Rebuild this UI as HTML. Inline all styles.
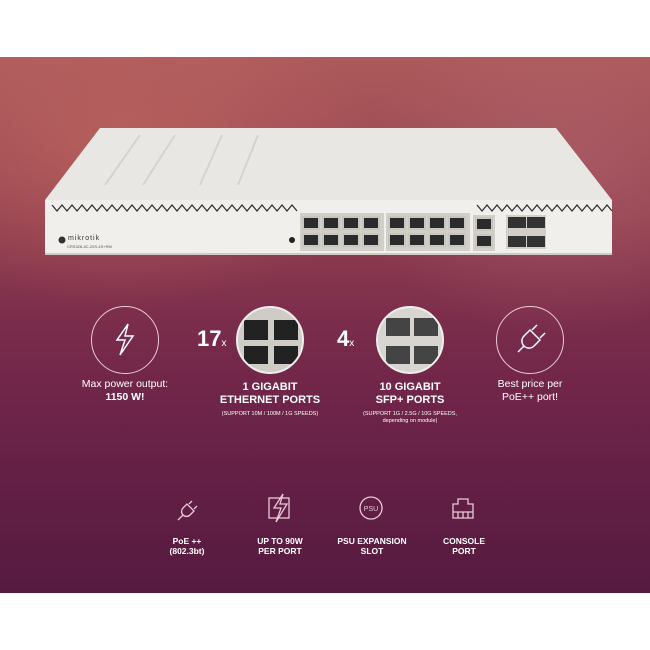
<!DOCTYPE html>
<html><head><meta charset="utf-8"><style>
*{margin:0;padding:0;box-sizing:border-box}
body{width:650px;height:650px;background:#fff;position:relative;overflow:hidden;font-family:"Liberation Sans",sans-serif}
.bg{position:absolute;left:0;top:57px;width:650px;height:536px;background:
radial-gradient(ellipse 260px 160px at 120px 90px,rgba(200,110,100,.55),transparent),
radial-gradient(ellipse 200px 160px at 560px 120px,rgba(190,120,130,.35),transparent),
linear-gradient(180deg,#ad5a5c 0%,#93404f 30%,#7a2c4b 50%,#6a2248 70%,#561a40 100%)}
.a{position:absolute}
.t{position:absolute;color:#fff;text-align:center;white-space:nowrap}
.port{position:absolute;width:18px;height:14px;background:#2b2b2b;border:2px solid #c9c5bf}
.circ{position:absolute;width:68px;height:68px;border:1.5px solid rgba(255,230,235,.85);border-radius:50%}
.pic{position:absolute;width:68px;height:68px;border-radius:50%;border:2px solid #eee;overflow:hidden;background:#d8d5d0}
</style></head><body>
<div class="bg"></div>
<!-- switch top face -->
<svg class="a" style="left:0;top:0" width="650" height="650">
<polygon points="100,128 556,128 612,200 45,200" fill="#e9e7e4"/>
<g stroke="#d6d3cf" stroke-width="2"><line x1="140" y1="135" x2="105" y2="185"/><line x1="175" y1="135" x2="143" y2="185"/><line x1="222" y1="135" x2="200" y2="185"/><line x1="258" y1="135" x2="238" y2="185"/></g>
<rect x="45" y="200" width="567" height="54" fill="#f1efec"/>
<rect x="45" y="253" width="567" height="2" fill="#cfcac4"/>
<path d="M52 205 l5 6 l5 -6 l5 6 l5 -6 l5 6 l5 -6 l5 6 l5 -6 l5 6 l5 -6 l5 6 l5 -6 l5 6 l5 -6 l5 6 l5 -6 l5 6 l5 -6 l5 6 l5 -6 l5 6 l5 -6 l5 6 l5 -6 l5 6 l5 -6 l5 6 l5 -6 l5 6 l5 -6 l5 6 l5 -6 l5 6 l5 -6 l5 6 l5 -6 l5 6 l5 -6 l5 6 l5 -6 l5 6 l5 -6 l5 6 l5 -6 l5 6 l5 -6 l5 6 l5 -6 l5 6" fill="none" stroke="#333" stroke-width="1.3"/>
<path d="M477 205 l5 6 l5 -6 l5 6 l5 -6 l5 6 l5 -6 l5 6 l5 -6 l5 6 l5 -6 l5 6 l5 -6 l5 6 l5 -6 l5 6 l5 -6 l5 6 l5 -6 l5 6 l5 -6 l5 6 l5 -6 l5 6 l5 -6 l5 6 l5 -6 l5 6" fill="none" stroke="#333" stroke-width="1.3"/>
<rect x="300" y="213" width="84" height="38" fill="#d2cec8"/>
<rect x="386" y="213" width="84" height="38" fill="#d2cec8"/>
<rect x="473" y="215" width="22" height="36" fill="#d2cec8"/>
<rect x="506" y="215" width="40" height="34" fill="#d2cec8"/>
<circle cx="292" cy="240" r="3" fill="#222"/>
<circle cx="62" cy="240" r="3.5" fill="#333"/>
</svg>
<div class="t" style="left:68px;top:235px;font-size:7px;color:#333;letter-spacing:1px">mikrotik</div>
<div class="t" style="left:67px;top:244px;font-size:4px;color:#555">CRS328-4C-20S-4S+RM</div>
<!-- ports -->
<div class="port" style="left:302px;top:216px"></div><div class="port" style="left:322px;top:216px"></div><div class="port" style="left:342px;top:216px"></div><div class="port" style="left:362px;top:216px"></div>
<div class="port" style="left:302px;top:233px"></div><div class="port" style="left:322px;top:233px"></div><div class="port" style="left:342px;top:233px"></div><div class="port" style="left:362px;top:233px"></div>
<div class="port" style="left:388px;top:216px"></div><div class="port" style="left:408px;top:216px"></div><div class="port" style="left:428px;top:216px"></div><div class="port" style="left:448px;top:216px"></div>
<div class="port" style="left:388px;top:233px"></div><div class="port" style="left:408px;top:233px"></div><div class="port" style="left:428px;top:233px"></div><div class="port" style="left:448px;top:233px"></div>
<div class="port" style="left:475px;top:217px"></div><div class="port" style="left:475px;top:234px"></div>
<div class="a" style="left:508px;top:217px;width:18px;height:11px;background:#333"></div><div class="a" style="left:527px;top:217px;width:18px;height:11px;background:#333"></div>
<div class="a" style="left:508px;top:236px;width:18px;height:11px;background:#333"></div><div class="a" style="left:527px;top:236px;width:18px;height:11px;background:#333"></div>
<!-- middle row -->
<div class="circ" style="left:91px;top:306px"></div>
<svg class="a" style="left:111px;top:322px" width="28" height="36"><path d="M17 2 L6 18 L14 18 L9 33 L22 14 L14 14 Z" fill="none" stroke="#fff" stroke-width="1.5"/></svg>
<div class="t" style="left:197px;top:326px;font-size:22px;font-weight:bold">17<span style="font-size:10px;font-weight:normal">x</span></div>
<div class="pic" style="left:236px;top:306px;background:linear-gradient(#cfcbc5,#cfcbc5)"><div class="a" style="left:6px;top:12px;width:24px;height:20px;background:#222"></div><div class="a" style="left:36px;top:12px;width:24px;height:20px;background:#222"></div><div class="a" style="left:6px;top:38px;width:24px;height:18px;background:#222"></div><div class="a" style="left:36px;top:38px;width:24px;height:18px;background:#222"></div></div>
<div class="t" style="left:337px;top:326px;font-size:22px;font-weight:bold">4<span style="font-size:10px;font-weight:normal">x</span></div>
<div class="pic" style="left:376px;top:306px"><div class="a" style="left:8px;top:10px;width:24px;height:18px;background:#444"></div><div class="a" style="left:36px;top:10px;width:24px;height:18px;background:#444"></div><div class="a" style="left:8px;top:38px;width:24px;height:18px;background:#444"></div><div class="a" style="left:36px;top:38px;width:24px;height:18px;background:#444"></div></div>
<div class="circ" style="left:496px;top:306px"></div>
<svg class="a" style="left:510px;top:320px" width="40" height="40"><path d="M8 32 L14 26 M14 26 a7 7 0 0 1 0-10 l6-6 10 10 -6 6 a7 7 0 0 1 -10 0 Z M22 10 l5-5 M30 18 l5-5" fill="none" stroke="#fff" stroke-width="1.5"/></svg>
<div class="t" style="left:60px;top:378px;width:130px;font-size:10.5px;line-height:13px">Max power output:<br><b>1150 W!</b></div>
<div class="t" style="left:200px;top:381px;width:140px;font-size:11px;line-height:13px;font-weight:bold">1 GIGABIT<br>ETHERNET PORTS</div>
<div class="t" style="left:200px;top:411px;width:140px;font-size:5.5px">(SUPPORT 10M / 100M / 1G SPEEDS)</div>
<div class="t" style="left:340px;top:381px;width:140px;font-size:11px;line-height:13px;font-weight:bold">10 GIGABIT<br>SFP+ PORTS</div>
<div class="t" style="left:340px;top:411px;width:140px;font-size:5.5px;line-height:7px">(SUPPORT 1G / 2.5G / 10G SPEEDS,<br>depending on module)</div>
<div class="t" style="left:465px;top:378px;width:130px;font-size:10.5px;line-height:13px">Best price per<br>PoE++ port!</div>
<!-- bottom icons -->
<svg class="a" style="left:0;top:490px" width="650" height="40" fill="none" stroke="#e9c9d6" stroke-width="1.3">
<path d="M178 30 L183 25 M183 25 a5 5 0 0 1 0-7 l4-4 7 7 -4 4 a5 5 0 0 1 -7 0 Z M189 14 l3-3 M194 19 l3-3"/>
<rect x="269" y="8" width="20" height="20"/><path d="M283 4 L274 18 L281 18 L276 32 L287 14 L280 14 Z"/>
<circle cx="371" cy="18" r="11"/><text x="371" y="21" font-size="7" fill="#e9c9d6" stroke="none" text-anchor="middle" font-family="Liberation Sans">PSU</text>
<path d="M453 28 V14 H458 V9 H468 V14 H473 V28 Z M453 22 H473 M458 22 V28 M463 22 V28 M468 22 V28"/>
</svg>
<div class="t" style="left:137px;top:536px;width:100px;font-size:8.5px;line-height:10px;font-weight:bold">PoE ++<br>(802.3bt)</div>
<div class="t" style="left:230px;top:536px;width:100px;font-size:8.5px;line-height:10px;font-weight:bold">UP TO 90W<br>PER PORT</div>
<div class="t" style="left:322px;top:536px;width:100px;font-size:8.5px;line-height:10px;font-weight:bold">PSU EXPANSION<br>SLOT</div>
<div class="t" style="left:414px;top:536px;width:100px;font-size:8.5px;line-height:10px;font-weight:bold">CONSOLE<br>PORT</div>
</body></html>
